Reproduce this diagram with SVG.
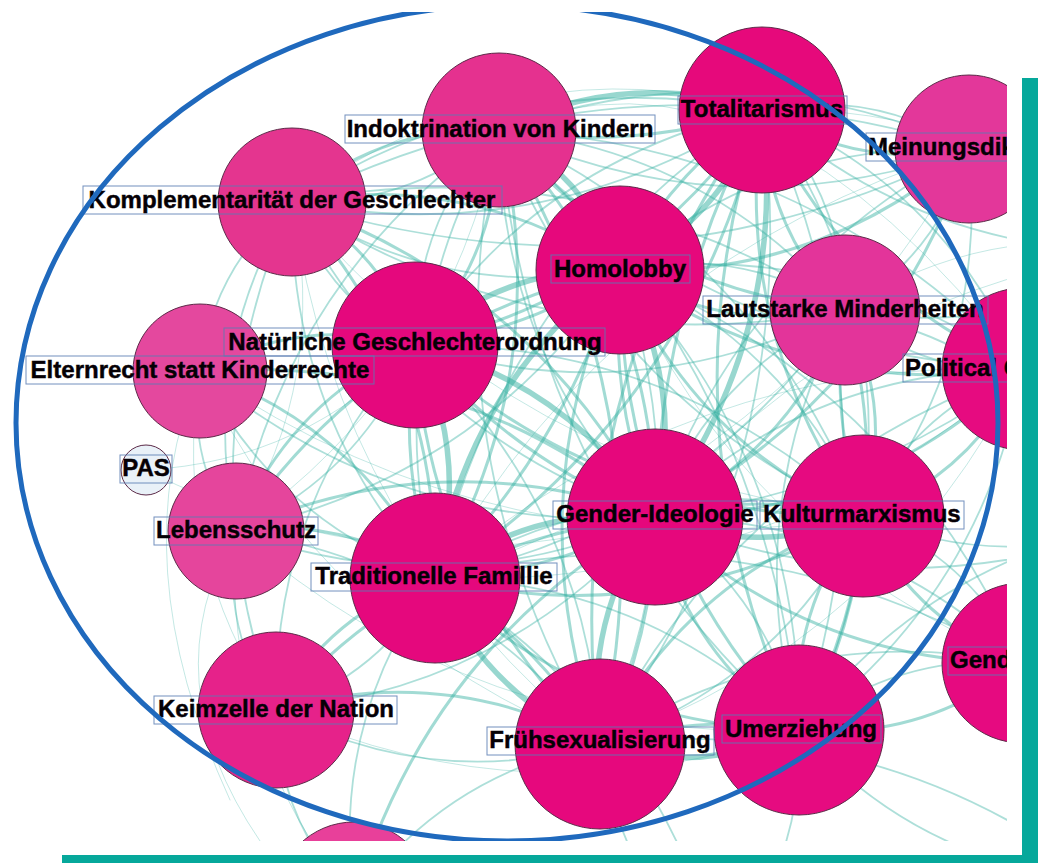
<svg xmlns="http://www.w3.org/2000/svg" width="1041" height="863" viewBox="0 0 1041 863">
<style>
.e{fill:none;stroke:#31b0a0;stroke-linecap:round}
.tk{stroke-width:5.5;stroke-opacity:.5}
.md{stroke-width:3;stroke-opacity:.45}
.tn{stroke-width:1.8;stroke-opacity:.4}
.hr{stroke-width:.9;stroke-opacity:.32}
.n{stroke:#5c2a48;stroke-width:1}
.lb{fill:none;stroke:#5a7db3;stroke-width:1;stroke-opacity:.85}
.t{font-family:"Liberation Sans",Arial,sans-serif;font-weight:bold;font-size:24px;fill:#050005;stroke:#050005;stroke-width:.45}
.m{text-anchor:middle}
</style>
<defs>
<clipPath id="shot"><rect x="0" y="12" width="1007" height="829"/></clipPath>
</defs>
<rect width="1041" height="863" fill="#fff"/>
<g clip-path="url(#shot)">
<g id="connectors">
<g class="e tk">
<path d="M655 517Q686.9 386.5 620 270"/>
<path d="M655 517Q532.8 503.5 435 578"/>
<path d="M655 517Q569.4 383 415 345"/>
<path d="M655 517Q789.9 334.9 762 110"/>
<path d="M655 517Q582.1 619.5 600 744"/>
<path d="M620 270Q723 218.4 762 110"/>
<path d="M620 270Q502.5 266.5 415 345"/>
<path d="M435 578Q471.6 457.5 415 345"/>
<path d="M435 578Q484.3 694 600 744"/>
<path d="M600 744Q702.3 776.8 799 730"/>
<path d="M762 110Q626.5 67.4 499 130"/>
<path d="M620 270Q465.9 387 435 578"/>
<path d="M655 517Q759.2 558.1 863 516"/>
<path d="M620 270Q587.5 175.8 499 130"/>
</g>
<g class="e md">
<path d="M655 517Q654.4 292.3 499 130"/>
<path d="M655 517Q536.5 286.9 292 202"/>
<path d="M655 517Q885.6 395.8 969 149"/>
<path d="M655 517Q791.4 451.5 845 310"/>
<path d="M655 517Q456.7 353 200 371"/>
<path d="M655 517Q442.7 440.2 236 531"/>
<path d="M655 517Q809.3 663.4 1022 663"/>
<path d="M655 517Q426.9 537.7 276 710"/>
<path d="M655 517Q684.4 652.3 799 730"/>
<path d="M655 517Q427.9 648.3 354 900"/>
<path d="M655 517Q868.6 516.6 1023 369"/>
<path d="M620 270Q469.6 170.4 292 202"/>
<path d="M620 270Q818.7 279.3 969 149"/>
<path d="M620 270Q724.5 335 845 310"/>
<path d="M620 270Q801.7 400.1 1023 369"/>
<path d="M620 270Q692.3 441.6 863 516"/>
<path d="M620 270Q515.2 503 600 744"/>
<path d="M620 270Q617.5 535.8 799 730"/>
<path d="M620 270Q375.8 323.7 236 531"/>
<path d="M435 578Q556.6 366.8 499 130"/>
<path d="M435 578Q438.7 361.4 292 202"/>
<path d="M435 578Q692.1 409.4 762 110"/>
<path d="M435 578Q358.9 427.5 200 371"/>
<path d="M435 578Q344.9 514.7 236 531"/>
<path d="M435 578Q329.1 612.2 276 710"/>
<path d="M435 578Q586.6 726.8 799 730"/>
<path d="M435 578Q661.4 632.6 863 516"/>
<path d="M415 345Q500 254.3 499 130"/>
<path d="M415 345Q382.1 248.9 292 202"/>
<path d="M415 345Q635.5 296.9 762 110"/>
<path d="M415 345Q302.3 315 200 371"/>
<path d="M415 345Q288.3 402.2 236 531"/>
<path d="M415 345Q427.7 581.5 600 744"/>
<path d="M415 345Q604.8 520.1 863 516"/>
<path d="M762 110Q857.7 170.9 969 149"/>
<path d="M762 110Q763.5 226.6 845 310"/>
<path d="M762 110Q840.7 291.7 1023 369"/>
<path d="M762 110Q731.3 333.2 863 516"/>
<path d="M762 110Q656.5 427.4 799 730"/>
<path d="M762 110Q554.2 394.6 600 744"/>
<path d="M863 516Q895.2 409.4 845 310"/>
<path d="M863 516Q972.4 474.5 1023 369"/>
<path d="M863 516Q913.1 621.3 1022 663"/>
<path d="M863 516Q788.2 610.2 799 730"/>
<path d="M863 516Q685.9 577.4 600 744"/>
<path d="M600 744Q444.8 662.2 276 710"/>
<path d="M600 744Q672.3 416.8 499 130"/>
<path d="M799 730Q923.9 741.1 1022 663"/>
<path d="M799 730Q906 529.2 845 310"/>
<path d="M499 130Q381.1 124.6 292 202"/>
<path d="M499 130Q636 289.2 845 310"/>
<path d="M415 345Q514.4 459.8 655 517"/>
<path d="M435 578Q552.3 573.9 655 517"/>
<path d="M620 270Q607.9 397.7 655 517"/>
<path d="M762 110Q659.7 300.7 655 517"/>
<path d="M600 744Q654.7 637.1 655 517"/>
<path d="M863 516Q758.9 491.5 655 517"/>
<path d="M435 578Q564.5 446.2 620 270"/>
<path d="M415 345Q526.5 332.1 620 270"/>
<path d="M762 110Q671.8 173 620 270"/>
<path d="M415 345Q397 463.9 435 578"/>
<path d="M600 744Q537.4 641.2 435 578"/>
<path d="M799 730Q697.8 713.1 600 744"/>
<path d="M499 130Q632.9 151.6 762 110"/>
<path d="M845 310Q829.3 415.2 863 516"/>
<path d="M799 730Q856.7 630.7 863 516"/>
</g>
<g class="e tn">
<path d="M655 517Q955.9 482.5 1150 250"/>
<path d="M655 517Q901.9 617.5 1150 520"/>
<path d="M435 578Q693.6 526 845 310"/>
<path d="M435 578Q330.1 722.8 354 900"/>
<path d="M415 345Q272.5 499.7 276 710"/>
<path d="M415 345Q637 413.5 845 310"/>
<path d="M762 110Q928 257.6 1150 250"/>
<path d="M762 110Q508.6 62 292 202"/>
<path d="M863 516Q989.4 353.7 969 149"/>
<path d="M863 516Q1005.7 575.4 1150 520"/>
<path d="M863 516Q758.2 250.2 499 130"/>
<path d="M600 744Q460.6 564.7 236 531"/>
<path d="M600 744Q445.8 772.8 354 900"/>
<path d="M600 744Q616.8 876 720 960"/>
<path d="M799 730Q983.2 594.3 1023 369"/>
<path d="M799 730Q919.5 865.2 1100 880"/>
<path d="M799 730Q769 370 499 130"/>
<path d="M499 130Q730.2 233.5 969 149"/>
<path d="M292 202Q212.2 268.1 200 371"/>
<path d="M292 202Q198.2 355.3 236 531"/>
<path d="M200 371Q186 458.2 236 531"/>
<path d="M236 531Q220.2 628.5 276 710"/>
<path d="M276 710Q277 820.6 354 900"/>
<path d="M845 310Q939.2 254.3 969 149"/>
<path d="M845 310Q922.2 375.1 1023 369"/>
<path d="M1022 663Q1017.6 787.1 1100 880"/>
<path d="M1022 663Q1114.6 617.1 1150 520"/>
<path d="M1023 369Q1110.3 334.9 1150 250"/>
<path d="M969 149Q1039.3 235.7 1150 250"/>
<path d="M845 310Q1009.5 341 1150 250"/>
<path d="M499 130Q287.3 277.9 236 531"/>
<path d="M292 202Q182.4 452.8 276 710"/>
<path d="M1023 369Q736.5 471.9 600 744"/>
<path d="M1022 663Q794.8 619.1 600 744"/>
<path d="M1022 663Q745.5 503.1 435 578"/>
<path d="M1022 663Q899.6 386.1 620 270"/>
<path d="M1150 520Q932.5 554.8 799 730"/>
<path d="M1150 520Q1039.5 354 845 310"/>
<path d="M1100 880Q877.2 712 600 744"/>
<path d="M720 960Q805.5 860.8 799 730"/>
<path d="M720 960Q653.9 712 435 578"/>
<path d="M655 517Q499.6 354.7 499 130"/>
<path d="M655 517Q410.5 432.1 292 202"/>
<path d="M655 517Q738.4 270.2 969 149"/>
<path d="M655 517Q708.6 375.5 845 310"/>
<path d="M655 517Q398.3 535 200 371"/>
<path d="M655 517Q448.3 607.8 236 531"/>
<path d="M655 517Q867.7 516.6 1022 663"/>
<path d="M655 517Q504.1 689.3 276 710"/>
<path d="M655 517Q769.6 594.7 799 730"/>
<path d="M655 517Q809.4 369.4 1023 369"/>
<path d="M620 270Q442.4 301.6 292 202"/>
<path d="M620 270Q770.3 139.7 969 149"/>
<path d="M620 270Q740.5 245 845 310"/>
<path d="M620 270Q841.3 238.9 1023 369"/>
<path d="M620 270Q790.7 344.4 863 516"/>
<path d="M620 270Q704.8 511 600 744"/>
<path d="M620 270Q801.5 464.2 799 730"/>
<path d="M620 270Q480.2 477.3 236 531"/>
<path d="M435 578Q377.4 341.2 499 130"/>
<path d="M435 578Q288.3 418.6 292 202"/>
<path d="M435 578Q504.9 278.6 762 110"/>
<path d="M435 578Q276.1 521.5 200 371"/>
<path d="M435 578Q381.9 675.8 276 710"/>
<path d="M435 578Q647.4 581.2 799 730"/>
<path d="M435 578Q636.6 461.4 863 516"/>
<path d="M415 345Q414 220.7 499 130"/>
<path d="M415 345Q324.9 298.1 292 202"/>
<path d="M415 345Q541.5 158.1 762 110"/>
<path d="M415 345Q362.7 473.8 236 531"/>
<path d="M415 345Q587.3 507.5 600 744"/>
<path d="M415 345Q673.2 340.9 863 516"/>
<path d="M762 110Q873.3 88.1 969 149"/>
<path d="M762 110Q843.5 193.4 845 310"/>
<path d="M762 110Q944.3 187.3 1023 369"/>
<path d="M762 110Q893.7 292.8 863 516"/>
<path d="M762 110Q904.5 412.6 799 730"/>
<path d="M762 110Q807.8 459.4 600 744"/>
<path d="M863 516Q913.6 410.5 1023 369"/>
<path d="M863 516Q971.9 557.7 1022 663"/>
<path d="M863 516Q777.1 682.6 600 744"/>
<path d="M600 744Q431.2 791.8 276 710"/>
<path d="M600 744Q426.7 457.2 499 130"/>
<path d="M799 730Q897.1 651.9 1022 663"/>
<path d="M799 730Q738 510.8 845 310"/>
<path d="M499 130Q409.9 207.4 292 202"/>
<path d="M499 130Q708 150.8 845 310"/>
<path d="M499 130Q737.8 45.5 969 149"/>
<path d="M762 110Q545.4 250 292 202"/>
<path d="M863 516Q603.8 395.8 499 130"/>
<path d="M799 730Q529 490 499 130"/>
<path d="M499 130Q713.2 354.3 1023 369"/>
<path d="M499 130Q808.8 144.7 1023 369"/>
<path d="M292 202Q641.1 310.9 969 149"/>
<path d="M292 202Q619.9 40.1 969 149"/>
<path d="M292 202Q546.9 366.6 845 310"/>
<path d="M292 202Q590.1 145.4 845 310"/>
</g>
<g class="e hr">
<path d="M146 470Q391.1 595.3 655 517"/>
<path d="M146 470Q305.5 461.3 415 345"/>
<path d="M200 371Q170.2 555.7 276 710"/>
<path d="M236 531Q221.2 739.1 354 900"/>
<path d="M292 202Q337.6 534.6 600 744"/>
<path d="M200 371Q325.4 637.5 600 744"/>
<path d="M276 710Q533.5 824.6 799 730"/>
<path d="M236 531Q477.7 743.1 799 730"/>
<path d="M200 371Q502.5 576.1 863 516"/>
<path d="M292 202Q514.7 473.2 863 516"/>
<path d="M969 149Q616.2 256.7 435 578"/>
<path d="M1023 369Q687.2 355.9 435 578"/>
<path d="M236 531Q150 680 260 841"/>
<path d="M200 371Q120 560 230 800"/>
<path d="M499 130Q760 20 1023 369"/>
<path d="M292 202Q520 40 762 110"/>
<path d="M292 202Q329.8 377.7 236 531"/>
<path d="M499 130Q447.7 383.1 236 531"/>
<path d="M969 149Q787.8 470.3 435 578"/>
<path d="M1023 369Q770.8 591.1 435 578"/>
<path d="M1022 663Q742.4 546.9 620 270"/>
<path d="M1023 369Q886.5 641.1 600 744"/>
<path d="M845 310Q985.5 219 1150 250"/>
<path d="M969 149Q1079.7 163.3 1150 250"/>
<path d="M762 110Q984 102.4 1150 250"/>
<path d="M655 517Q849.1 284.5 1150 250"/>
</g>
</g>
<g id="nodes">
<g id="n-indoktrination"><circle class="n" cx="499" cy="130" r="77" fill="#e5318f"/></g>
<g id="n-komplementaritaet"><circle class="n" cx="292" cy="202" r="74" fill="#e4358f"/></g>
<g id="n-totalitarismus"><circle class="n" cx="762" cy="110" r="83" fill="#e6097b"/></g>
<g id="n-meinungsdiktatur"><circle class="n" cx="969" cy="149" r="74" fill="#e3379a"/></g>
<g id="n-homolobby"><circle class="n" cx="620" cy="270" r="84" fill="#e6087c"/></g>
<g id="n-lautstarke"><circle class="n" cx="845" cy="310" r="75" fill="#e3349a"/></g>
<g id="n-political"><circle class="n" cx="1023" cy="369" r="81" fill="#e60b80"/></g>
<g id="n-natuerliche"><circle class="n" cx="415" cy="345" r="83" fill="#e5087d"/></g>
<g id="n-elternrecht"><circle class="n" cx="200" cy="371" r="67" fill="#e4489e"/></g>
<g id="n-pas"><circle class="n" cx="146" cy="470" r="25" fill="#e9f1f8"/></g>
<g id="n-lebensschutz"><circle class="n" cx="236" cy="531" r="68" fill="#e5459c"/></g>
<g id="n-traditionelle"><circle class="n" cx="435" cy="578" r="85" fill="#e5087d"/></g>
<g id="n-gender-ideologie"><circle class="n" cx="655" cy="517" r="88" fill="#e6077c"/></g>
<g id="n-kulturmarxismus"><circle class="n" cx="863" cy="516" r="81" fill="#e60a80"/></g>
<g id="n-gend"><circle class="n" cx="1022" cy="663" r="80" fill="#e60a80"/></g>
<g id="n-keimzelle"><circle class="n" cx="276" cy="710" r="78" fill="#e6228a"/></g>
<g id="n-fruehsexualisierung"><circle class="n" cx="600" cy="744" r="85" fill="#e6087d"/></g>
<g id="n-umerziehung"><circle class="n" cx="799" cy="730" r="85" fill="#e60b80"/></g>
<g id="n-bottom"><circle class="n" cx="354" cy="900" r="78" fill="#e8409a"/></g>
</g>
<g id="labels">
<g id="l-indoktrination"><rect class="lb" x="345" y="115" width="310" height="28"/><text class="t m" x="500" y="137">Indoktrination von Kindern</text></g>
<g id="l-komplementaritaet"><rect class="lb" x="83" y="186" width="419" height="28"/><text class="t m" x="292" y="208">Komplementarität der Geschlechter</text></g>
<g id="l-totalitarismus"><rect class="lb" x="678" y="96" width="169" height="28"/><text class="t m" x="762" y="117">Totalitarismus</text></g>
<g id="l-meinungsdiktatur"><rect class="lb" x="866" y="133" width="180" height="28"/><text class="t" x="868" y="155">Meinungsdik</text></g>
<g id="l-homolobby"><rect class="lb" x="551" y="255" width="139" height="28"/><text class="t m" x="620" y="277">Homolobby</text></g>
<g id="l-lautstarke"><rect class="lb" x="703" y="296" width="285" height="28"/><text class="t m" x="845" y="317">Lautstarke Minderheiten</text></g>
<g id="l-political"><rect class="lb" x="903" y="354" width="240" height="28"/><text class="t" x="905" y="376">Political C</text></g>
<g id="l-natuerliche"><rect class="lb" x="224" y="328" width="381" height="28"/><text class="t m" x="415" y="350">Natürliche Geschlechterordnung</text></g>
<g id="l-elternrecht"><rect class="lb" x="26" y="356" width="348" height="28"/><text class="t m" x="200" y="378">Elternrecht statt Kinderrechte</text></g>
<g id="l-pas"><rect class="lb" x="120" y="455" width="52" height="28"/><text class="t m" x="146" y="476">PAS</text></g>
<g id="l-lebensschutz"><rect class="lb" x="154" y="517" width="164" height="28"/><text class="t m" x="236" y="538">Lebensschutz</text></g>
<g id="l-traditionelle"><rect class="lb" x="311" y="563" width="246" height="28"/><text class="t m" x="434" y="584">Traditionelle Famillie</text></g>
<g id="l-gender-ideologie"><rect class="lb" x="553" y="501" width="204" height="28"/><text class="t m" x="655" y="522">Gender-Ideologie</text></g>
<g id="l-kulturmarxismus"><rect class="lb" x="760" y="501" width="204" height="28"/><text class="t m" x="862" y="522">Kulturmarxismus</text></g>
<g id="l-gend"><rect class="lb" x="948" y="647" width="100" height="28"/><text class="t" x="950" y="668">Gend</text></g>
<g id="l-keimzelle"><rect class="lb" x="154" y="696" width="243" height="28"/><text class="t m" x="276" y="717">Keimzelle der Nation</text></g>
<g id="l-fruehsexualisierung"><rect class="lb" x="487" y="727" width="227" height="28"/><text class="t m" x="600" y="748">Frühsexualisierung</text></g>
<g id="l-umerziehung"><rect class="lb" x="722" y="715" width="159" height="28"/><text class="t m" x="801" y="737">Umerziehung</text></g>
</g>
<ellipse id="cluster" cx="507" cy="423" rx="491" ry="418" fill="none" stroke="#1f69bd" stroke-width="5"/>
</g>
<g id="frame" fill="#06a89b">
<rect x="1022" y="78" width="16" height="785"/>
<rect x="62" y="855" width="976" height="8"/>
</g>
</svg>
